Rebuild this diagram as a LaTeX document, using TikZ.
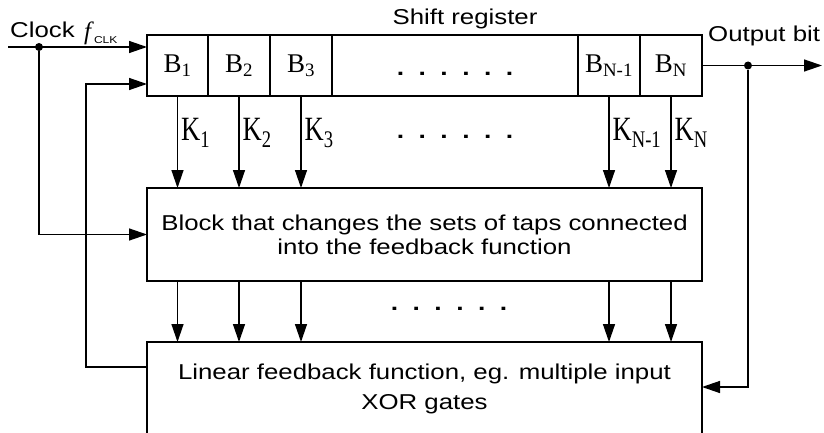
\documentclass[tikz,border=0pt]{standalone}
\usepackage{fontspec}
\setmainfont{Liberation Serif}
\setsansfont{Liberation Sans}[FakeStretch=1.2]
\newfontfamily\kfont{Liberation Serif}[FakeStretch=0.78]
\usetikzlibrary{arrows.meta}
\usetikzlibrary{calc}
\usetikzlibrary{positioning}

\newcommand{\tapdots}{\textbf{.\hspace{14.5pt}.\hspace{14.5pt}.\hspace{14.5pt}.\hspace{14.5pt}.\hspace{14.5pt}.}}

\begin{document}
\begin{tikzpicture}[x=1pt,y=-1pt,
    cell/.style={draw,rectangle,line width=1.6pt,outer sep=0pt,inner sep=0pt,minimum width=62pt,minimum height=61pt,font=\fontsize{27}{30}\selectfont},
    blk/.style={draw,rectangle,line width=1.6pt,outer sep=0pt,minimum width=555pt,minimum height=93pt,align=center},
    lab/.style={inner sep=0pt,font=\sffamily\fontsize{21.5}{24}\selectfont},
    klab/.style={right,inner sep=3pt,font=\kfont\fontsize{34}{34}\selectfont},
    tap/.style={line width=1.4pt,-{Triangle[length=18pt,width=12pt]}},
    junc/.style={circle,fill,inner sep=0pt,minimum size=8pt},
    dotrow/.style={inner sep=0pt,font=\sffamily\fontsize{22}{24}\selectfont}]

  \useasboundingbox (0,0) rectangle (824,433);
  \clip (0,0) rectangle (824,433);

  \node [cell,minimum width=61pt] (B1) at (177.5,65.5) {B\textsubscript{1}};
  \node [cell,right=0pt of B1] (B2) {B\textsubscript{2}};
  \node [cell,right=0pt of B2] (B3) {B\textsubscript{3}};
  \node [cell,right=0pt of B3,minimum width=246pt] (Bdots) {};
  \node [cell,right=0pt of Bdots] (Bn1) {B\textsubscript{N-1}};
  \node [cell,right=0pt of Bn1] (Bn) {B\textsubscript{N}};
  \node [lab,anchor=base] (reglab) at (465,25) {Shift register};

  \node [blk,font=\sffamily\fontsize{21.5}{24}\selectfont] (chg) at (424.5,234.5) {Block that changes the sets of taps connected\\into the feedback function};
  \node [blk,font=\sffamily\fontsize{21.5}{30}\selectfont] (lin) at (424.5,388.5) {Linear feedback function, eg. multiple input\\XOR gates};

  \node [dotrow] (dots1) at (455,74) {\tapdots};
  \node [dotrow] (dots2) at (455,137) {\tapdots};
  \node [dotrow] (dots3) at (449,309) {\tapdots};

  \foreach \c/\k in {B1/1,B2/2,B3/3,Bn1/N-1,Bn/N}
    \draw [tap] (\c.south) -- (\c.south |- chg.north) node [klab,pos=0.4] {K\textsubscript{\k}};
  \foreach \c in {B1,B2,B3,Bn1,Bn}
    \draw [tap] (\c.south |- chg.south) -- (\c.south |- lin.north);

  \coordinate (clkin) at (8,47);
  \node [junc] (clkdot) at (39,47) {};
  \draw [tap] (clkin) -- (clkin -| B1.west);
  \draw [tap] (clkdot) |- (chg.west);
  \node [lab,anchor=base west] (clklab) at (10,38) {Clock};
  \node [anchor=base west,inner sep=0pt] (fclk) at (84,40) {\fontsize{25}{25}\selectfont\textit{f}\textsubscript{\sffamily\fontsize{10}{10}\selectfont CLK}};

  \draw [tap] ([yshift=-25pt]lin.north west) -- ++(-61,0) |- ([yshift=-49pt]B1.north west);

  \coordinate (outend) at (822,65.5);
  \node [junc] (outdot) at (748,65.5) {};
  \draw [tap] (Bn.east) -- (outend);
  \draw [tap] (outdot) |- ([yshift=-45pt]lin.north east);
  \node [lab,anchor=base west] (outlab) at (708,42) {Output bit};

\end{tikzpicture}
\end{document}
